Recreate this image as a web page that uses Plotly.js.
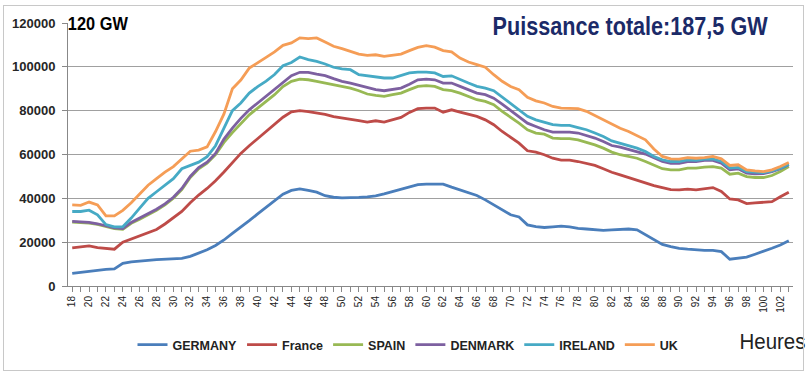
<!DOCTYPE html>
<html>
<head>
<meta charset="utf-8">
<script src="https://cdn.plot.ly/plotly-3.0.1.min.js"></script>
<style>
html,body{margin:0;padding:0;background:#fff;}
#wrap{position:relative;width:811px;height:374px;}
#chart{width:811px;height:374px;}
#frame{position:absolute;left:3px;top:5px;width:799px;height:364px;border:1px solid #c8c8c8;pointer-events:none;}
</style>
</head>
<body>
<div id="wrap"><div id="chart"></div><div id="frame"></div></div>
<script>
const hours = [18,19,20,21,22,23,24,25,26,27,28,29,30,31,32,33,34,35,36,37,38,39,40,41,42,43,44,45,46,47,48,49,50,51,52,53,54,55,56,57,58,59,60,61,62,63,64,65,66,67,68,69,70,71,72,73,74,75,76,77,78,79,80,81,82,83,84,85,86,87,88,89,90,91,92,93,94,95,96,97,98,99,100,101,102,103];
const tickHours = [18,20,22,24,26,28,30,32,34,36,38,40,42,44,46,48,50,52,54,56,58,60,62,64,66,68,70,72,74,76,78,80,82,84,86,88,90,92,94,96,98,100,102];
const seriesNames = ["GERMANY","France","SPAIN","DENMARK","IRELAND","UK"];
const seriesColors = ["#4A7EBB","#BE4B48","#98B954","#7D60A0","#46AAC5","#F59D56"];

const germany = [5800,6300,6800,7300,7600,7800,10300,11000,11500,11700,12000,12200,12300,12600,13500,15000,16500,18500,21000,24000,26800,29800,32900,35900,39000,41900,43600,44300,43600,42800,41200,40500,40200,40200,40400,40700,41100,42000,43100,44200,45200,46300,46500,46500,46500,45100,43900,42600,41300,39300,37000,34700,32500,31500,27900,27100,26700,27000,27300,27000,26300,26000,25600,25400,25600,25900,26000,25600,23300,21000,19000,18000,17200,16800,16400,16300,16300,15700,12200,12600,13200,14500,15700,17200,18700,20600];
const france = [17400,17700,18300,17500,17000,16800,20000,21500,23000,24300,25800,28300,31000,34000,38000,41500,44500,48000,52000,56500,60500,64000,67200,70500,73700,77000,79500,80000,79600,79100,78300,77300,76800,76200,75500,74800,75400,74800,75800,76900,79200,80900,81200,81200,79300,80400,79300,78400,77400,75800,73600,70500,67800,65200,61700,61100,59900,58300,57400,57400,56800,56000,55000,53500,51900,50700,49500,48300,46900,45800,44900,44000,43900,44200,43900,44500,44900,43100,39700,39300,37600,37900,38100,38500,40700,42800];
const spain = [29200,29100,28700,28100,27000,26200,25900,28600,30500,32500,34500,37000,40000,44000,49500,53500,56000,60000,65500,70000,74300,78100,81200,84200,87300,91000,93400,94400,94100,93400,92600,91800,91100,90300,89100,87600,87000,86500,87300,88000,89600,91100,91400,91100,89600,89100,88000,86500,85000,84200,82700,79700,77200,74300,71300,69800,69300,67500,67200,67200,66700,65600,64400,62900,61100,59900,59100,58300,56800,55000,53500,53000,53000,53800,53800,54200,54500,53800,51000,51500,49900,49500,49500,50400,52200,54500];
const denmark = [29500,29400,29000,28400,27300,26500,26200,29000,31000,33000,35000,37500,40500,44500,50000,54000,56500,60500,67000,72000,76500,80400,83500,86500,89600,93000,96000,97500,97500,96700,96000,94600,93400,92600,91500,90600,89600,89100,89600,90300,92100,94100,94400,94100,92600,92600,91100,89600,88000,87300,85700,83000,80200,77400,74300,72800,71300,70200,70200,70200,69800,68700,67500,65900,64100,63400,62400,61400,60200,58500,56800,56000,56000,56800,56800,57300,57300,56000,53000,53500,51500,51200,51300,52200,53500,55300];
const ireland = [34000,34000,34600,32500,28000,27000,27000,31000,35500,40000,43000,46000,49000,53500,55000,56500,59000,64000,72000,80000,83500,88000,91000,93500,96500,100500,102000,104500,103300,102500,101300,99800,99100,98700,96400,95900,95200,94900,94900,95900,97200,97600,97600,97200,95600,95900,94100,92600,91100,90300,89100,86100,83200,80400,77400,75800,74800,73600,73300,73300,72300,71300,69800,68200,66200,65200,64100,62900,61400,59100,57600,56800,56800,57600,57300,57900,58000,56800,53800,54100,52200,51900,51800,52500,53800,55600];
const uk = [37000,36800,38300,37000,32000,32000,34500,38000,42000,46000,49000,52000,54500,58000,61500,62000,63500,70500,78500,90000,94000,99400,101700,104300,106800,109800,110900,113200,112900,113200,111300,109400,108300,107100,105800,105200,105500,104800,105200,105800,107400,108900,109700,109000,107400,106800,104000,102200,101000,99800,96400,93400,91000,89600,86100,84500,83500,81900,81200,81200,80900,79700,77800,75800,73900,72000,70500,68700,66700,62500,59100,58000,57900,58600,58300,58600,59100,58000,55000,55300,53000,52500,52200,53000,54500,56400];

const yTicks = [0,20000,40000,60000,80000,100000,120000];
const cornerLabel = "120 GW";
const titleText = "Puissance totale:187,5 GW";
const xAxisLabel = "Heures";

const allSeries = [germany, france, spain, denmark, ireland, uk];
const ARIAL = "'Liberation Sans', Arial, sans-serif";

const traces = allSeries.map((vals, i) => ({
  x: hours, y: vals, type: 'scatter', mode: 'lines', name: seriesNames[i],
  line: {color: seriesColors[i], width: 2.8}
}));

// pixel helpers for text placement (plot area: x 68..793, y 23..286)
const px = v => (v - 68) / 725;
const py = v => (286 - v) / 263;

const layout = {
  width: 811, height: 374,
  margin: {l: 68, r: 18, t: 23, b: 88},
  paper_bgcolor: '#fff', plot_bgcolor: '#fff',
  showlegend: true,
  legend: {orientation: 'h', x: px(408), xanchor: 'center', y: py(345), yanchor: 'middle',
    font: {family: ARIAL, size: 12.5, color: '#222', weight: 'bold'}, tracegroupgap: 0},
  xaxis: {
    range: [17.5, 103.5], tickmode: 'array', tickvals: tickHours, ticktext: tickHours.map(String),
    tickangle: -90, ticks: 'outside', ticklen: 5, tickcolor: '#888', showline: true, linecolor: '#888', linewidth: 1,
    showgrid: false, zeroline: false,
    minor: {tickmode: 'array', tickvals: hours, ticks: 'outside', ticklen: 5, tickcolor: '#888', showgrid: false},
    tickfont: {family: ARIAL, size: 10, color: '#222'}
  },
  yaxis: {
    range: [0, 120000], tickmode: 'array', tickvals: yTicks, ticktext: yTicks.map(String),
    ticks: 'outside', ticklen: 5, tickcolor: '#888', showline: true, linecolor: '#888', linewidth: 1,
    showgrid: true, gridcolor: '#a0a0a0', gridwidth: 1, zeroline: false, ticklabelstandoff: 4,
    tickfont: {family: ARIAL, size: 13, color: '#262626', weight: 'bold'}
  },
  annotations: [
    {text: cornerLabel, xref: 'paper', yref: 'paper', x: px(98), y: py(23), xanchor: 'center', yanchor: 'middle', showarrow: false,
     font: {family: ARIAL, size: 19, color: '#000', weight: 'bold'}},
    {text: titleText, xref: 'paper', yref: 'paper', x: px(630.5), y: py(26), xanchor: 'center', yanchor: 'middle', showarrow: false,
     font: {family: ARIAL, size: 25, color: '#1B2A68', weight: 'bold'}},
    {text: xAxisLabel, xref: 'paper', yref: 'paper', x: px(772), y: py(341), xanchor: 'center', yanchor: 'middle', showarrow: false,
     font: {family: ARIAL, size: 22, color: '#222'}}
  ]
};
// target widths of the condensed-looking texts in the reference
const condensedWidths = [60, 275, 66];

Plotly.newPlot('chart', traces, layout, {staticPlot: true, displayModeBar: false}).then(gd => {
  const anns = gd.querySelectorAll('.annotation');
  anns.forEach(a => {
    const idx = +a.getAttribute('data-index');
    const t = a.querySelector('text.annotation-text');
    if (t && condensedWidths[idx]) {
      t.setAttribute('textLength', condensedWidths[idx]);
      t.setAttribute('lengthAdjust', 'spacingAndGlyphs');
    }
  });
});
</script>
</body>
</html>
